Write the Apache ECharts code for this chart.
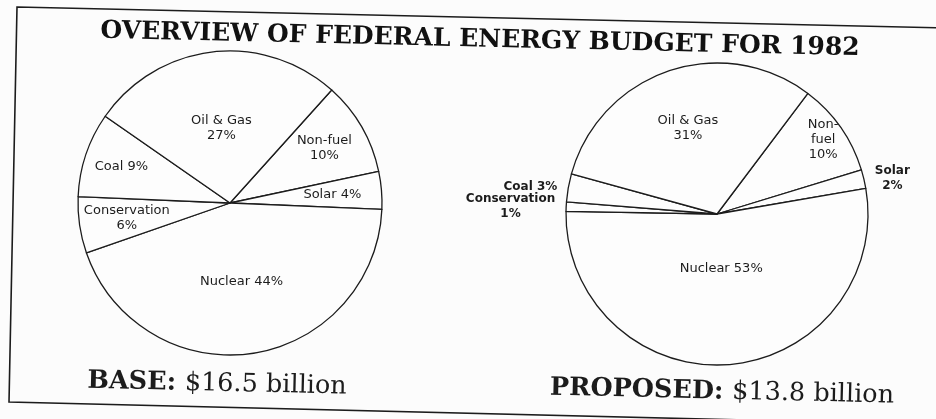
<!DOCTYPE html>
<html><head><meta charset="utf-8">
<script src="https://cdn.jsdelivr.net/npm/echarts@6/dist/echarts.min.js"></script>
<style>html,body{margin:0;padding:0;background:#fcfcfc}#c{width:936px;height:419px}</style>
</head><body><div id="c"></div>
<script>
// ---- data ----
const categories = ['Non-fuel', 'Solar', 'Nuclear', 'Conservation', 'Coal', 'Oil & Gas'];
const baseValues = [10, 4, 44, 6, 9, 27];
const proposedValues = [10, 2, 53, 1, 3, 31];
const baseLabels = ['Non-fuel\n{c}%', 'Solar {c}%', 'Nuclear {c}%', 'Conservation\n{c}%', 'Coal {c}%', 'Oil & Gas\n{c}%'];
const proposedLabels = ['Non-\nfuel\n{c}%', 'Solar\n{c}%', 'Nuclear {c}%', 'Conservation\n{c}%', 'Coal {c}%', 'Oil & Gas\n{c}%'];
const titleText = 'OVERVIEW OF FEDERAL ENERGY BUDGET FOR 1982';
const baseCaption = ['BASE:', '$16.5 billion'];
const proposedCaption = ['PROPOSED:', '$13.8 billion'];

// ---- styling / layout (kept separate from data) ----
const baseLabelRadius = [1.38, 1.3, 1.0, 1.32, 1.45, 0.95];
const proposedLabelRadius = [1.65, 1, 0.7, 1, 1, 1.15];
const proposedOutside = [false, true, false, true, true, false];
const INK = '#1c1c1c';
const SKEW = -0.023;

function makeLayout(cx, cy, factors) {
  return function (p) {
    const r = p.labelRect;
    const lx = r.x + r.width / 2, ly = r.y + r.height / 2;
    const f = factors[p.dataIndex];
    return { x: cx + (lx - cx) * f, y: cy + (ly - cy) * f, align: 'center', verticalAlign: 'middle' };
  };
}

function pieSeries(values, labels, center, radius, startAngle, factors, outside) {
  return {
    type: 'pie',
    center: center,
    radius: radius,
    startAngle: startAngle,
    clockwise: true,
    avoidLabelOverlap: false,
    silent: true,
    animation: false,
    itemStyle: { color: '#fdfdfd', borderColor: INK, borderWidth: 1.3 },
    label: {
      show: true,
      position: 'inside',
      color: INK,
      fontFamily: 'DejaVu Sans',
      fontSize: 13,
      lineHeight: 15,
      formatter: function (p) { return labels[p.dataIndex].replace('{c}', p.value); }
    },
    labelLine: { show: false, length: 3, length2: 3 },
    labelLayout: makeLayout(center[0], center[1], factors),
    data: categories.map(function (name, i) {
      const item = { name: name, value: values[i] };
      if (outside && outside[i]) {
        item.label = { position: 'outside', fontWeight: 'bold', fontSize: 12 };
      }
      return item;
    })
  };
}

function captionText(x, y, parts) {
  return {
    type: 'text', x: x, y: y, rotation: SKEW, silent: true,
    style: {
      text: '{b|' + parts[0] + ' }{r|' + parts[1] + '}',
      align: 'center', verticalAlign: 'middle', fill: INK,
      rich: {
        b: { fontFamily: 'DejaVu Serif', fontWeight: 'bold', fontSize: 25.5, fill: INK },
        r: { fontFamily: 'DejaVu Serif', fontWeight: 'normal', fontSize: 25.5, fill: INK }
      }
    }
  };
}

const chart = echarts.init(document.getElementById('c'), null, { renderer: 'canvas' });
chart.setOption({
  backgroundColor: '#fcfcfc',
  animation: false,
  graphic: [
    { type: 'polygon', silent: true, z: -1,
      shape: { points: [[17, 7], [990, 29], [990, 426], [9, 402]] },
      style: { fill: 'none', stroke: INK, lineWidth: 1.6 } },
    { type: 'text', x: 480, y: 40, rotation: SKEW, silent: true,
      style: { text: titleText, fontFamily: 'DejaVu Serif', fontWeight: 'bold', fontSize: 25,
               fill: '#111111', align: 'center', verticalAlign: 'middle' } },
    captionText(217, 384, baseCaption),
    captionText(722, 392, proposedCaption)
  ],
  series: [
    pieSeries(baseValues, baseLabels, [230, 203], 152, 48, baseLabelRadius, null),
    pieSeries(proposedValues, proposedLabels, [717, 214], 151, 53, proposedLabelRadius, proposedOutside)
  ]
});
</script>
</body></html>
